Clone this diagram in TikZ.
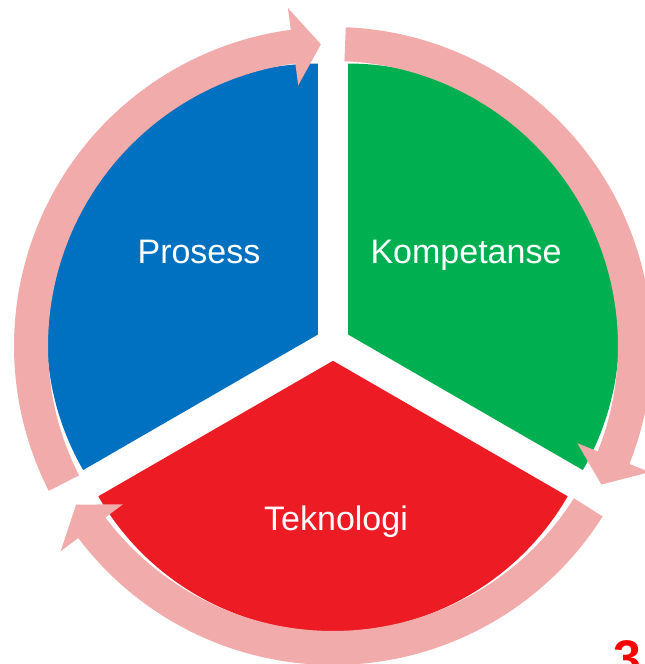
\documentclass[tikz,border=0pt]{standalone}
\usepackage{fontspec}
\setmainfont{Liberation Sans}
\definecolor{prosessblue}{HTML}{0070C0}
\definecolor{kompgreen}{HTML}{00B050}
\definecolor{teknored}{HTML}{ED1C24}
\definecolor{ringpink}{HTML}{F2ABAB}
\definecolor{numred}{HTML}{FF0000}
\begin{document}
\begin{tikzpicture}[x=1pt, y=1pt,
  sectortext/.style={text=white, anchor=base, font=\fontsize{34}{40}\selectfont},
  ringarrow/.style={fill=ringpink}]
\useasboundingbox (0,0) rectangle (645,664);
\clip (0,0) rectangle (645,664);

\def \radius {271}
\def \explode {17.5} % distance each piece is pulled out
\def \rin {285}
\def \rout {319}
\def \rmid {302}
\def \headin {263}
\def \headout {341}
\coordinate (centre) at (333,320.7);
\coordinate (ring) at (333,318);
%
  \fill[prosessblue] ([shift={(150:\explode)}]centre) -- ++(90:\radius)
    arc (90:210:\radius) -- cycle;
  \node[sectortext] (prosess) at (199,400) {Prosess};
%
  \fill[kompgreen] ([shift={(30:\explode)}]centre) -- ++(90:\radius)
    arc (90:-30:\radius) -- cycle;
  \node[sectortext] (kompetanse) at (466,400) {Kompetanse};
%
  \fill[teknored] ([shift={(270:\explode)}]centre) -- ++(210:\radius)
    arc (210:330:\radius) -- cycle;
  \node[sectortext] (teknologi) at (336,133) {Teknologi};
%
  \fill[ringarrow] ([shift={(207:\rin)}]ring) arc (207:97.6:\rin)
    -- ([shift={(97.6:\headin)}]ring) -- ([shift={(92.3:\rmid)}]ring)
    -- ([shift={(97.6:\headout)}]ring) -- ([shift={(97.6:\rout)}]ring)
    arc (97.6:207:\rout) -- cycle;
%
  \fill[ringarrow] ([shift={(87.7:\rin)}]ring) arc (87.7:-21.7:\rin)
    -- ([shift={(-21.7:\headin)}]ring) -- ([shift={(-27.3:\rmid)}]ring)
    -- ([shift={(-21.7:\headout)}]ring) -- ([shift={(-21.7:\rout)}]ring)
    arc (-21.7:87.7:\rout) -- cycle;
%
  \fill[ringarrow] ([shift={(-32.3:\rin)}]ring) arc (-32.3:-143:\rin)
    -- ([shift={(-143:\headin)}]ring) -- ([shift={(-148.3:\rmid)}]ring)
    -- ([shift={(-143:\headout)}]ring) -- ([shift={(-143:\rout)}]ring)
    arc (-143:-32.3:\rout) -- cycle;
%
  \node[text=numred, anchor=base, font=\bfseries\fontsize{50}{60}\selectfont] (nummer) at (627,-11) {3};
\end{tikzpicture}
\end{document}
